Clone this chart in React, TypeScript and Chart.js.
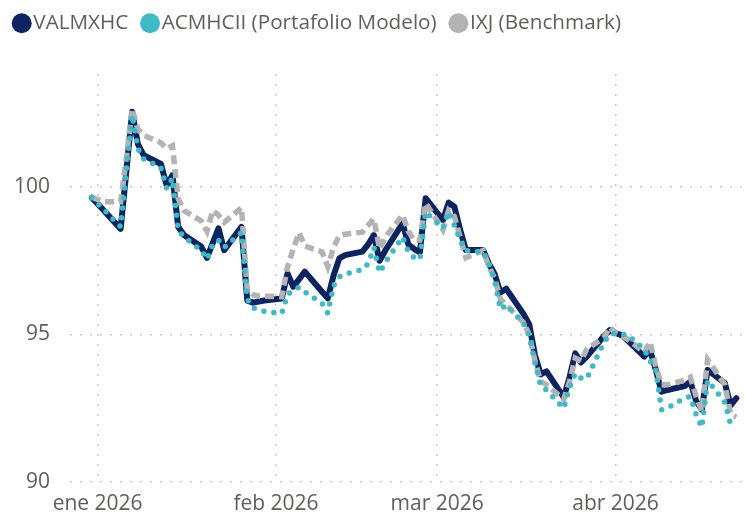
import React, { useEffect, useRef } from 'react';
import { Chart, registerables } from 'chart.js';

Chart.register(...registerables);

const dates = [
  '2025-12-31', '2026-01-02', '2026-01-05', '2026-01-06', '2026-01-07', '2026-01-08', '2026-01-09', '2026-01-12', '2026-01-13', '2026-01-14',
  '2026-01-15', '2026-01-16', '2026-01-19', '2026-01-20', '2026-01-21', '2026-01-22', '2026-01-23', '2026-01-26', '2026-01-27', '2026-01-28',
  '2026-01-29', '2026-01-30', '2026-02-02', '2026-02-03', '2026-02-04', '2026-02-05', '2026-02-06', '2026-02-09', '2026-02-10', '2026-02-11',
  '2026-02-12', '2026-02-13', '2026-02-16', '2026-02-17', '2026-02-18', '2026-02-19', '2026-02-20', '2026-02-23', '2026-02-24', '2026-02-25',
  '2026-02-26', '2026-02-27', '2026-03-02', '2026-03-03', '2026-03-04', '2026-03-05', '2026-03-06', '2026-03-09', '2026-03-10', '2026-03-11',
  '2026-03-12', '2026-03-13', '2026-03-16', '2026-03-17', '2026-03-18', '2026-03-19', '2026-03-20', '2026-03-23', '2026-03-24', '2026-03-25',
  '2026-03-26', '2026-03-27', '2026-03-30', '2026-03-31', '2026-04-01', '2026-04-02', '2026-04-03', '2026-04-06', '2026-04-07', '2026-04-08',
  '2026-04-09', '2026-04-10', '2026-04-13', '2026-04-14', '2026-04-15', '2026-04-16', '2026-04-17', '2026-04-20', '2026-04-21', '2026-04-22',
];

const valmxhc = [
  99.64, 99.22, 98.58, 100.55, 102.55, 101.45, 101.08, 100.78, 100.05, 100.4,
  98.65, 98.37, 97.98, 97.6, 98.1, 98.6, 97.86, 98.65, 96.15, 96.08,
  96.12, 96.15, 96.22, 97.07, 96.62, 96.87, 97.13, 96.45, 96.23, 97.0,
  97.58, 97.69, 97.81, 98.05, 98.37, 97.5, 97.85, 98.77, 98.05, 97.9,
  97.78, 99.62, 98.88, 99.47, 99.33, 98.55, 97.86, 97.86, 97.4, 97.05,
  96.42, 96.55, 95.7, 95.35, 94.3, 93.65, 93.75, 92.87, 93.55, 94.36,
  94.05, 94.25, 94.95, 95.15, 95.05, 94.98, 94.82, 94.25, 94.47, 93.8,
  93.06, 93.12, 93.25, 93.4, 92.75, 92.45, 93.8, 93.35, 92.6, 92.84,
];

const acmhcii = [
  99.64, 99.25, 98.65, 100.6, 102.45, 101.3, 100.95, 100.65, 99.95, 100.3,
  98.55, 98.3, 97.85, 97.55, 98.05, 98.2, 97.95, 98.45, 96.2, 95.9,
  95.84, 95.78, 95.72, 96.35, 96.5, 96.6, 96.45, 96.05, 95.72, 96.65,
  96.95, 97.05, 97.2, 97.4, 97.95, 97.1, 97.45, 98.3, 97.8, 97.6,
  97.55, 99.15, 98.6, 99.16, 98.7, 98.2, 97.84, 97.8, 97.4, 96.8,
  95.85, 96.0, 95.4, 94.95, 94.05, 93.25, 93.12, 92.5, 93.2, 93.68,
  93.52, 93.5, 94.75, 94.98, 95.04, 95.0, 95.0, 94.5, 94.1, 93.8,
  92.45, 92.5, 92.85, 92.9, 92.3, 91.85, 93.45, 92.7, 91.95, 91.95,
];

const ixj = [
  99.65, 99.5, 99.5, 101.0, 102.65, 101.95, 101.75, 101.5, 101.3, 101.4,
  99.6, 99.2, 98.85, 98.5, 99.2, 99.05, 98.8, 99.3, 96.5, 96.35,
  96.3, 96.3, 96.28, 97.3, 97.9, 98.45, 98.0, 97.8, 97.3, 97.95,
  98.35, 98.4, 98.47, 98.7, 98.92, 97.9, 98.3, 99.05, 98.5, 98.2,
  98.2, 99.45, 98.55, 99.2, 99.0, 98.3, 97.6, 97.85, 97.3, 96.9,
  96.2, 96.0, 95.4, 95.0, 94.1, 93.4, 93.3, 92.8, 93.4, 94.2,
  94.1, 94.5, 94.9, 95.25, 95.05, 94.95, 94.85, 94.4, 94.75, 93.9,
  93.3, 93.3, 93.45, 93.55, 92.9, 92.4, 94.15, 93.3, 92.3, 92.2,
];

const seriesNames = ['VALMXHC', 'ACMHCII (Portafolio Modelo)', 'IXJ (Benchmark)'];
const seriesColors = ['#0C2461', '#3CBAC8', '#B3B3B3'];
const monthTickDates = ['2026-01-01', '2026-02-01', '2026-03-01', '2026-04-01'];
const monthTickLabels = ['ene 2026', 'feb 2026', 'mar 2026', 'abr 2026'];
const yTickValues = [90, 95, 100];
const yRange = [90, 103.83];
const xRangeDays = [-4.8, 112.5];

const BASE = Date.UTC(2026, 0, 1);
const toDay = (s: string) => {
  const [y, m, d] = s.split('-').map(Number);
  return (Date.UTC(y, m - 1, d) - BASE) / 86400000;
};

const FONT = "'Open Sans', 'Noto Sans', sans-serif";
const TEXT = '#605E5C';
const GRID = '#C8C8C8';

export default function App() {
  const ref = useRef<HTMLCanvasElement | null>(null);

  useEffect(() => {
    document.body.style.margin = '0';
    const canvas = ref.current;
    if (!canvas) return;
    const toPoints = (vals: number[]) => dates.map((d, i) => ({ x: toDay(d), y: vals[i] }));
    const monthDays = monthTickDates.map(toDay);

    const legendSizer = {
      id: 'legendSizer',
      beforeLayout(chart: any) {
        const lg = chart.legend;
        if (lg && !lg.__wrapped) {
          const origFit = lg.fit;
          lg.fit = function () {
            origFit.call(this);
            this.height = 74;
          };
          const origDraw = lg.draw;
          lg.draw = function () {
            const ctx = this.ctx;
            ctx.save();
            ctx.translate(0, -7.5);
            origDraw.call(this);
            ctx.restore();
          };
          lg.__wrapped = true;
        }
      },
    };

    const chart = new Chart(canvas, {
      type: 'line',
      data: {
        datasets: [
          {
            label: seriesNames[0],
            data: toPoints(valmxhc),
            borderColor: seriesColors[0],
            backgroundColor: seriesColors[0],
            borderWidth: 6,
            borderJoinStyle: 'round',
            borderCapStyle: 'round',
            pointRadius: 0,
            pointBorderWidth: 0,
            tension: 0,
            order: 3,
          },
          {
            label: seriesNames[1],
            data: toPoints(acmhcii),
            borderColor: seriesColors[1],
            backgroundColor: seriesColors[1],
            borderWidth: 5.5,
            borderDash: [0, 10],
            borderCapStyle: 'round',
            borderJoinStyle: 'round',
            pointRadius: 0,
            pointBorderWidth: 0,
            tension: 0,
            order: 1,
          },
          {
            label: seriesNames[2],
            data: toPoints(ixj),
            borderColor: seriesColors[2],
            backgroundColor: seriesColors[2],
            borderWidth: 5.5,
            borderDash: [9, 5],
            borderCapStyle: 'butt',
            borderJoinStyle: 'miter',
            pointRadius: 0,
            pointBorderWidth: 0,
            tension: 0,
            order: 2,
          },
        ],
      },
      options: {
        animation: false,
        responsive: false,
        maintainAspectRatio: false,
        layout: { padding: 0 },
        plugins: {
          tooltip: { enabled: false },
          legend: {
            position: 'top',
            align: 'start',
            labels: {
              usePointStyle: true,
              pointStyle: 'circle',
              boxWidth: 2.5,
              boxHeight: 14.14,
              padding: 20.45,
              color: TEXT,
              font: { family: FONT, size: 20.7 },
              sort: (a: any, b: any) => a.datasetIndex - b.datasetIndex,
            },
          },
        },
        scales: {
          x: {
            type: 'linear',
            min: xRangeDays[0],
            max: xRangeDays[1],
            afterBuildTicks: (scale: any) => {
              scale.ticks = monthDays.map((v) => ({ value: v }));
            },
            afterFit: (scale: any) => {
              scale.height = 34;
            },
            ticks: {
              autoSkip: false,
              maxRotation: 0,
              padding: 9,
              color: TEXT,
              font: { family: FONT, size: 21 },
              callback: (value: any) => {
                const idx = monthDays.indexOf(Number(value));
                return idx >= 0 ? monthTickLabels[idx] : '';
              },
            },
            grid: { color: GRID, lineWidth: 1.5, drawTicks: false },
            border: { display: false, dash: [2, 8] },
          },
          y: {
            type: 'linear',
            min: yRange[0],
            max: yRange[1],
            afterBuildTicks: (scale: any) => {
              scale.ticks = yTickValues.map((v) => ({ value: v }));
            },
            afterFit: (scale: any) => {
              scale.width = 70;
            },
            ticks: {
              padding: 20,
              color: TEXT,
              font: { family: FONT, size: 21 },
              callback: (value: any) => String(value),
            },
            grid: { color: GRID, lineWidth: 1.5, drawTicks: false },
            border: { display: false, dash: [2, 8] },
          },
        },
      },
      plugins: [legendSizer],
    } as any);

    return () => chart.destroy();
  }, []);

  return (
    <div style={{ position: 'relative', width: 745, height: 516 }}>
      <canvas ref={ref} width={745} height={516} style={{ display: 'block', width: 745, height: 516 }} />
    </div>
  );
}
